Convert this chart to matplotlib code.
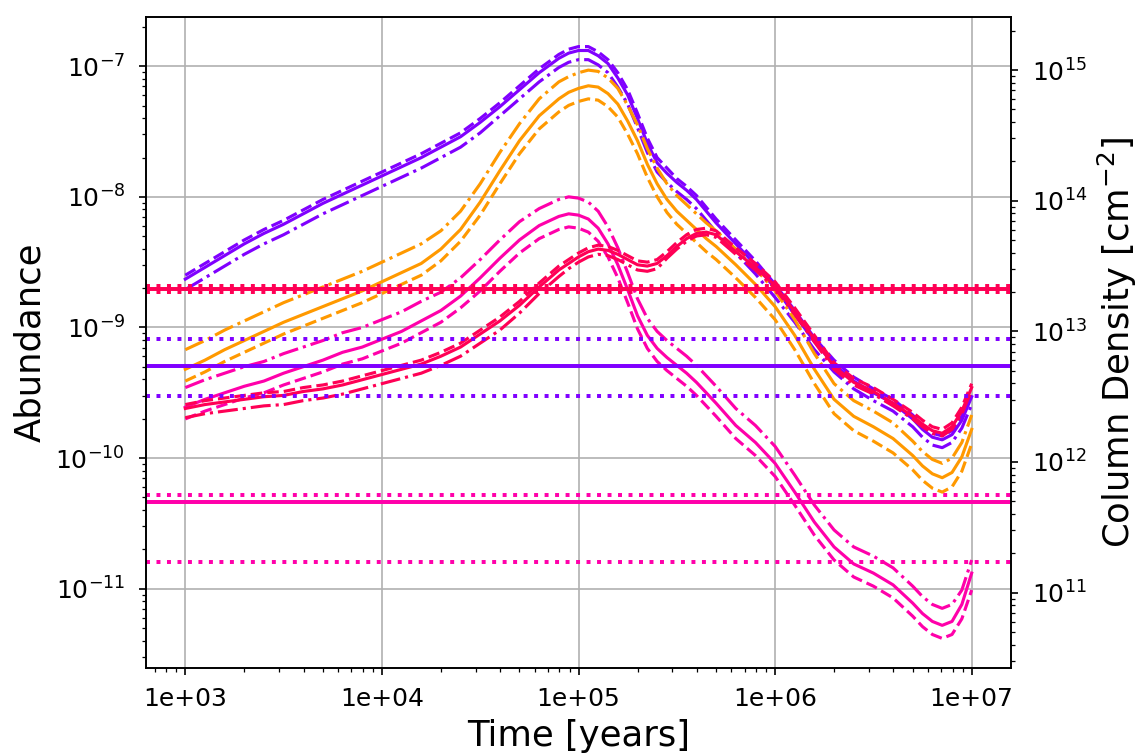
import numpy as np
import matplotlib
matplotlib.use("Agg")
import matplotlib.pyplot as plt
from matplotlib.ticker import FormatStrFormatter

# model output times, log10 [years]
log_time = [3.0, 3.1, 3.2, 3.3, 3.4, 3.5, 3.6, 3.7, 3.8, 3.9,
            4.0, 4.1, 4.2, 4.3, 4.4, 4.5, 4.6, 4.7, 4.8, 4.9,
            4.95, 5.0, 5.05, 5.1, 5.15, 5.2, 5.25, 5.3, 5.35, 5.4,
            5.45, 5.5, 5.55, 5.6, 5.65, 5.7, 5.8, 5.9, 6.0, 6.1,
            6.2, 6.3, 6.4, 6.5, 6.6, 6.7, 6.75, 6.8, 6.85, 6.9,
            6.95, 7.0]

# log10 abundances (solid / dashed / dash-dot models)
purple_solid = [-8.63, -8.54, -8.45, -8.36, -8.28, -8.21, -8.13, -8.05, -7.98, -7.91,
                -7.84, -7.77, -7.70, -7.62, -7.54, -7.43, -7.31, -7.18, -7.05, -6.94,
                -6.90, -6.88, -6.88, -6.92, -6.98, -7.09, -7.22, -7.40, -7.59, -7.74,
                -7.82, -7.89, -7.95, -8.02, -8.11, -8.20, -8.36, -8.52, -8.70, -8.90,
                -9.11, -9.28, -9.41, -9.50, -9.58, -9.70, -9.78, -9.84, -9.86, -9.82,
                -9.71, -9.53]
purple_dashed = [-8.60, -8.51, -8.42, -8.33, -8.25, -8.18, -8.10, -8.02, -7.95, -7.88,
                 -7.81, -7.74, -7.67, -7.59, -7.51, -7.40, -7.28, -7.15, -7.02, -6.91,
                 -6.87, -6.85, -6.85, -6.89, -6.95, -7.05, -7.18, -7.36, -7.55, -7.70,
                 -7.78, -7.86, -7.92, -7.99, -8.08, -8.17, -8.33, -8.49, -8.67, -8.87,
                 -9.08, -9.25, -9.38, -9.47, -9.55, -9.67, -9.75, -9.81, -9.83, -9.79,
                 -9.68, -9.50]
purple_dashdot = [-8.71, -8.62, -8.53, -8.44, -8.36, -8.29, -8.21, -8.13, -8.06, -7.99,
                  -7.92, -7.85, -7.78, -7.70, -7.62, -7.51, -7.38, -7.25, -7.12, -7.01,
                  -6.97, -6.95, -6.95, -6.99, -7.05, -7.16, -7.29, -7.47, -7.66, -7.81,
                  -7.89, -7.96, -8.02, -8.09, -8.18, -8.27, -8.43, -8.59, -8.77, -8.96,
                  -9.17, -9.34, -9.47, -9.56, -9.64, -9.76, -9.84, -9.90, -9.92, -9.88,
                  -9.77, -9.59]

orange_solid = [-9.32, -9.25, -9.17, -9.10, -9.03, -8.96, -8.90, -8.84, -8.78, -8.72,
                -8.65, -8.58, -8.51, -8.40, -8.25, -8.04, -7.80, -7.57, -7.38, -7.25,
                -7.20, -7.17, -7.15, -7.16, -7.21, -7.29, -7.42, -7.57, -7.75, -7.90,
                -8.02, -8.11, -8.18, -8.25, -8.32, -8.38, -8.52, -8.67, -8.84, -9.06,
                -9.32, -9.55, -9.68, -9.76, -9.85, -9.98, -10.06, -10.12, -10.15, -10.11,
                -9.99, -9.78]
orange_dashed = [-9.41, -9.34, -9.26, -9.19, -9.12, -9.05, -8.99, -8.93, -8.87, -8.81,
                 -8.74, -8.67, -8.60, -8.49, -8.34, -8.14, -7.90, -7.67, -7.48, -7.35,
                 -7.30, -7.27, -7.25, -7.26, -7.31, -7.39, -7.52, -7.67, -7.85, -8.00,
                 -8.12, -8.21, -8.28, -8.35, -8.42, -8.48, -8.62, -8.77, -8.94, -9.17,
                 -9.43, -9.66, -9.79, -9.87, -9.96, -10.09, -10.17, -10.23, -10.26, -10.22,
                 -10.10, -9.89]
orange_dashdot = [-9.17, -9.10, -9.02, -8.95, -8.88, -8.81, -8.75, -8.69, -8.63, -8.57,
                  -8.50, -8.43, -8.36, -8.26, -8.11, -7.90, -7.66, -7.44, -7.25, -7.12,
                  -7.08, -7.05, -7.03, -7.04, -7.09, -7.17, -7.30, -7.45, -7.63, -7.78,
                  -7.90, -7.99, -8.06, -8.13, -8.20, -8.26, -8.40, -8.55, -8.72, -8.94,
                  -9.20, -9.43, -9.56, -9.64, -9.73, -9.87, -9.95, -10.01, -10.04, -10.00,
                  -9.88, -9.67]

magenta_solid = [-9.61, -9.55, -9.50, -9.45, -9.41, -9.35, -9.30, -9.25, -9.19, -9.15,
                 -9.09, -9.03, -8.95, -8.87, -8.76, -8.62, -8.47, -8.33, -8.22, -8.15,
                 -8.13, -8.14, -8.17, -8.24, -8.36, -8.52, -8.71, -8.91, -9.06, -9.16,
                 -9.23, -9.29, -9.35, -9.42, -9.50, -9.58, -9.75, -9.88, -10.04, -10.26,
                 -10.49, -10.68, -10.81, -10.88, -10.97, -11.11, -11.19, -11.25, -11.28, -11.25,
                 -11.12, -10.88]
magenta_dashed = [-9.70, -9.64, -9.59, -9.54, -9.50, -9.44, -9.39, -9.34, -9.28, -9.24,
                  -9.18, -9.12, -9.04, -8.96, -8.85, -8.72, -8.57, -8.43, -8.32, -8.25,
                  -8.23, -8.24, -8.27, -8.34, -8.46, -8.62, -8.81, -9.01, -9.16, -9.26,
                  -9.33, -9.39, -9.45, -9.52, -9.60, -9.68, -9.85, -9.98, -10.14, -10.36,
                  -10.59, -10.78, -10.91, -10.98, -11.07, -11.21, -11.29, -11.35, -11.38, -11.35,
                  -11.23, -11.01]
magenta_dashdot = [-9.46, -9.40, -9.35, -9.30, -9.26, -9.20, -9.15, -9.10, -9.04, -9.00,
                   -8.94, -8.88, -8.80, -8.73, -8.62, -8.48, -8.33, -8.19, -8.09, -8.02,
                   -8.00, -8.01, -8.04, -8.11, -8.23, -8.39, -8.58, -8.78, -8.93, -9.03,
                   -9.10, -9.16, -9.22, -9.29, -9.37, -9.45, -9.62, -9.75, -9.91, -10.13,
                   -10.36, -10.55, -10.68, -10.75, -10.84, -10.98, -11.06, -11.12, -11.15, -11.12,
                   -11.01, -10.78]

red_solid = [-9.62, -9.59, -9.57, -9.55, -9.53, -9.52, -9.49, -9.47, -9.44, -9.40,
             -9.36, -9.32, -9.28, -9.22, -9.15, -9.05, -8.95, -8.83, -8.69, -8.56,
             -8.51, -8.46, -8.42, -8.40, -8.41, -8.44, -8.48, -8.52, -8.53, -8.51,
             -8.45, -8.38, -8.32, -8.28, -8.27, -8.29, -8.42, -8.54, -8.68, -8.88,
             -9.09, -9.30, -9.42, -9.49, -9.58, -9.68, -9.74, -9.79, -9.81, -9.76,
             -9.64, -9.46]
red_dashed = [-9.59, -9.56, -9.54, -9.52, -9.50, -9.49, -9.46, -9.44, -9.41, -9.37,
              -9.33, -9.29, -9.25, -9.19, -9.12, -9.02, -8.92, -8.80, -8.66, -8.53,
              -8.48, -8.43, -8.39, -8.37, -8.38, -8.41, -8.45, -8.49, -8.50, -8.48,
              -8.42, -8.35, -8.29, -8.25, -8.24, -8.26, -8.39, -8.51, -8.65, -8.85,
              -9.06, -9.27, -9.39, -9.46, -9.55, -9.65, -9.71, -9.76, -9.78, -9.73,
              -9.61, -9.43]
red_dashdot = [-9.69, -9.66, -9.64, -9.62, -9.60, -9.59, -9.56, -9.54, -9.51, -9.47,
               -9.43, -9.39, -9.35, -9.29, -9.22, -9.12, -9.02, -8.89, -8.74, -8.61,
               -8.55, -8.50, -8.46, -8.44, -8.45, -8.48, -8.52, -8.56, -8.57, -8.55,
               -8.47, -8.40, -8.34, -8.30, -8.29, -8.31, -8.44, -8.56, -8.70, -8.90,
               -9.11, -9.32, -9.44, -9.51, -9.60, -9.70, -9.76, -9.81, -9.83, -9.78,
               -9.66, -9.48]

# observed abundances (best value, lower / upper bound)
obs_purple = [5.1e-10, 3.0e-10, 8.2e-10]
obs_magenta = [4.6e-11, 1.6e-11, 5.2e-11]
obs_red = [1.96e-9, 1.86e-9, 2.07e-9]

colors = {'purple': '#8000ff', 'orange': '#ff9900', 'magenta': '#ff00aa', 'red': '#ff0055'}
NH = 1.07e22  # abundance -> column density

time = 10 ** np.array(log_time)

fig = plt.figure(figsize=(1139 / 150, 754 / 150), dpi=150)
ax = fig.add_axes([146 / 1139, 1 - 668 / 754, 865 / 1139, 651 / 754])

lw = 1.5
models = [('purple', purple_solid, purple_dashed, purple_dashdot),
          ('orange', orange_solid, orange_dashed, orange_dashdot),
          ('magenta', magenta_solid, magenta_dashed, magenta_dashdot),
          ('red', red_solid, red_dashed, red_dashdot)]
for name, s, d, dd in models:
    c = colors[name]
    ax.plot(time, 10 ** np.array(s), color=c, ls='-', lw=lw)
    ax.plot(time, 10 ** np.array(d), color=c, ls='--', lw=lw)
    ax.plot(time, 10 ** np.array(dd), color=c, ls='-.', lw=lw)

for name, obs in [('purple', obs_purple), ('magenta', obs_magenta), ('red', obs_red)]:
    c = colors[name]
    ax.axhline(obs[0], color=c, ls='-', lw=1.9)
    ax.axhline(obs[1], color=c, ls=':', lw=1.9)
    ax.axhline(obs[2], color=c, ls=':', lw=1.9)

ax.set_xscale('log')
ax.set_yscale('log')
ax.grid(True, which='major')
ax.xaxis.set_major_formatter(FormatStrFormatter('%.0e'))
ax.tick_params(axis='x', labelsize=12, pad=5.5)
ax.tick_params(axis='y', labelsize=12, pad=6.5)
ax.set_xlabel('Time [years]', fontsize=17)
ax.set_ylabel('Abundance', fontsize=17)

ax2 = ax.twinx()
ax2.set_yscale('log')
y0, y1 = ax.get_ylim()
ax2.set_ylim(y0 * NH, y1 * NH)
ax2.tick_params(labelsize=12, pad=6.5)
ax2.set_ylabel('Column Density [cm$^{-2}$]', fontsize=17)

fig.savefig('out.png', dpi=150)
